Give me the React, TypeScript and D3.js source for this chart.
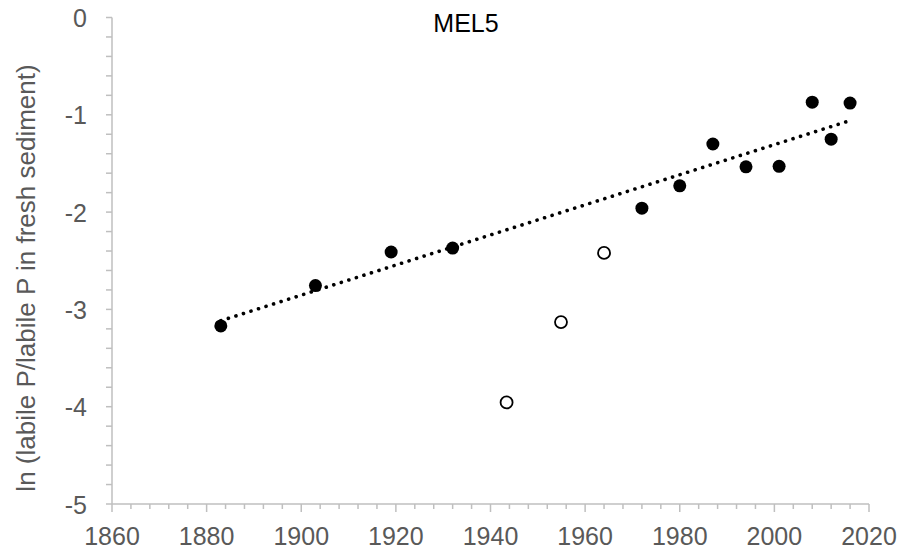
import React, { useEffect, useRef } from "react";
import * as d3 from "d3";

const width = 903;
const height = 554;
const margin = { top: 17.5, right: 34, bottom: 50, left: 112 };

// filled points (used for the trend line)
const years = [1883, 1903, 1919, 1932, 1972, 1980, 1987, 1994, 2001, 2008, 2012, 2016];
const values = [-3.17, -2.755, -2.41, -2.37, -1.96, -1.73, -1.3, -1.535, -1.53, -0.87, -1.25, -0.88];

// open points (excluded from the fit)
const openYears = [1943.4, 1954.9, 1964];
const openValues = [-3.956, -3.13, -2.42];

const xTicks = [1860, 1880, 1900, 1920, 1940, 1960, 1980, 2000, 2020];
const yTicks = [0, -1, -2, -3, -4, -5];

const title = "MEL5";
const yLabel = "ln (labile P/labile P in fresh sediment)";

const font = "Arial, 'Liberation Sans', sans-serif";

export default function App() {
  const xAxisRef = useRef<SVGGElement>(null);
  const yAxisRef = useRef<SVGGElement>(null);

  const x = d3.scaleLinear().domain([1860, 2020]).range([margin.left, width - margin.right]);
  const y = d3.scaleLinear().domain([-5, 0]).range([height - margin.bottom, margin.top]);

  // least squares line through the filled points, like excel's trendline
  const mx = d3.mean(years) as number;
  const my = d3.mean(values) as number;
  const sxy = d3.sum(years, (d, i) => (d - mx) * (values[i] - my));
  const sxx = d3.sum(years, d => (d - mx) * (d - mx));
  const slope = sxy / sxx;
  const fit = (t: number) => my + slope * (t - mx);
  const [x0, x1] = d3.extent(years) as [number, number];
  const trend = d3.line<number>().x(d => x(d)).y(d => y(fit(d)))([x0, x1]);

  useEffect(() => {
    const minorX = d3.range(1860, 2021, 4);
    const gx = d3.select(xAxisRef.current);
    gx.selectAll("*").remove();
    gx.append("line")
      .attr("x1", x(1860)).attr("x2", x(2020))
      .attr("y1", 0).attr("y2", 0)
      .attr("stroke", "#bfbfbf").attr("stroke-width", 1.5);
    gx.selectAll("line.tick").data(minorX).enter().append("line")
      .attr("class", "tick")
      .attr("x1", d => x(d)).attr("x2", d => x(d))
      .attr("y1", 0).attr("y2", d => (d % 20 === 0 ? 8 : 5))
      .attr("stroke", "#bfbfbf").attr("stroke-width", 1.5);
    gx.selectAll("text").data(xTicks).enter().append("text")
      .attr("x", d => x(d)).attr("y", 41)
      .attr("text-anchor", "middle")
      .attr("font-family", font).attr("font-size", 25)
      .attr("fill", "#595959")
      .text(d => d);

    const minorY = d3.range(0, 26).map(i => -i * 0.2);
    const gy = d3.select(yAxisRef.current);
    gy.selectAll("*").remove();
    gy.append("line")
      .attr("x1", 0).attr("x2", 0)
      .attr("y1", y(0)).attr("y2", y(-5))
      .attr("stroke", "#bfbfbf").attr("stroke-width", 1.5);
    gy.selectAll("line.tick").data(minorY).enter().append("line")
      .attr("class", "tick")
      .attr("x1", -6).attr("x2", 0)
      .attr("y1", d => y(d)).attr("y2", d => y(d))
      .attr("stroke", "#bfbfbf").attr("stroke-width", 1.5);
    gy.selectAll("text").data(yTicks).enter().append("text")
      .attr("x", -25).attr("y", d => y(d))
      .attr("dy", "0.38em")
      .attr("text-anchor", "end")
      .attr("font-family", font).attr("font-size", 25)
      .attr("fill", "#595959")
      .text(d => d);
  }, []);

  return (
    <svg width={width} height={height} style={{ position: "absolute", left: 0, top: 0 }}>
      <rect width={width} height={height} fill="#fff" />
      <g ref={xAxisRef} transform={`translate(0, ${y(-5)})`} />
      <g ref={yAxisRef} transform={`translate(${x(1860)}, 0)`} />
      <path
        d={trend || ""}
        fill="none"
        stroke="#000"
        strokeWidth={3.6}
        strokeLinecap="round"
        strokeDasharray="0.1 7.8"
      />
      {years.map((d, i) => (
        <circle key={"f" + i} cx={x(d)} cy={y(values[i])} r={6.5} fill="#000" />
      ))}
      {openYears.map((d, i) => (
        <circle
          key={"o" + i}
          cx={x(d)}
          cy={y(openValues[i])}
          r={6}
          fill="#fff"
          stroke="#000"
          strokeWidth={1.8}
        />
      ))}
      <text x={466} y={32} textAnchor="middle" fontFamily={font} fontSize={25} fill="#000">
        {title}
      </text>
      <text
        transform={`translate(35, 278) rotate(-90)`}
        textAnchor="middle"
        fontFamily={font}
        fontSize={26}
        fill="#595959"
      >
        {yLabel}
      </text>
    </svg>
  );
}
